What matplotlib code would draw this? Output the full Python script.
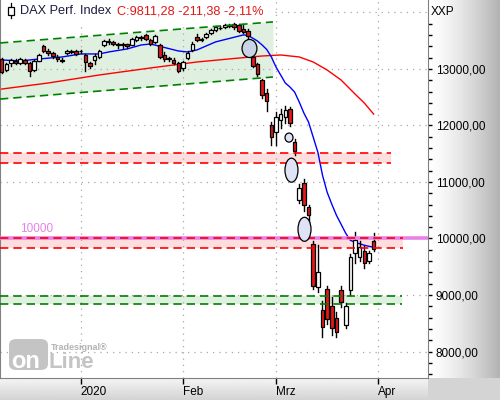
import numpy as np
import matplotlib
matplotlib.use("Agg")
import matplotlib.pyplot as plt
from matplotlib.patches import Rectangle, Ellipse, FancyBboxPatch
from matplotlib.ticker import FixedLocator, FuncFormatter

plt.rcParams['font.family'] = ['Liberation Sans', 'DejaVu Sans']

# daily bars, early Dec 2019 .. 31 Mar 2020 (bar 17 = 2 Jan, 39 = 3 Feb, 59 = 2 Mar)
opens = [13180, 12980, 13100, 13150, 13100, 13160, 13100, 12980, 13150, 13400,
         13310, 13290, 13220, 13160, 13280, 13320, 13310, 13320, 13240, 13110,
         13160, 13220, 13420, 13500, 13480, 13430, 13420, 13440, 13430, 13520,
         13560, 13600, 13510, 13470, 13420, 13250, 13180, 13160, 13100, 13020,
         13200, 13330, 13560, 13520, 13560, 13640, 13690, 13720, 13740, 13760,
         13790, 13770, 13700, 13680, 13210, 13080, 12800, 12580, 12000, 11880,
         12100, 12150, 12300, 11700, 10690, 10980, 10550, 9900, 9140, 8730,
         9100, 8800, 8600, 9080, 8470, 9080, 9750, 9680, 9780, 9600,
         9950]
highs = [13200, 13110, 13180, 13170, 13190, 13170, 13120, 13160, 13260, 13420,
         13360, 13300, 13250, 13190, 13330, 13340, 13330, 13340, 13260, 13120,
         13260, 13330, 13520, 13530, 13490, 13460, 13460, 13450, 13550, 13580,
         13590, 13620, 13530, 13600, 13440, 13300, 13220, 13190, 13120, 13150,
         13310, 13470, 13620, 13540, 13640, 13710, 13760, 13760, 13790, 13800,
         13810, 13800, 13790, 13700, 13230, 13110, 12830, 12640, 12060, 12230,
         12300, 12340, 12330, 11760, 10960, 11060, 10600, 9950, 9880, 8900,
         9160, 8960, 8700, 9160, 8850, 9720, 10120, 9950, 9860, 9780,
         10090]
lows = [12930, 12960, 13060, 13080, 13080, 13080, 12880, 12970, 13140, 13300,
        13250, 13200, 13150, 13120, 13260, 13280, 13240, 13280, 12960, 13020,
        13090, 13200, 13400, 13440, 13420, 13380, 13380, 13380, 13420, 13500,
        13510, 13510, 13420, 13460, 13200, 13150, 13150, 13080, 12940, 12990,
        13180, 13320, 13500, 13490, 13540, 13620, 13670, 13700, 13720, 13740,
        13700, 13650, 13640, 13530, 13040, 12880, 12480, 12250, 11650, 11650,
        11950, 12050, 11990, 11480, 10620, 10480, 10300, 9100, 9060, 8250,
        8480, 8300, 8250, 8780, 8420, 9000, 9560, 9600, 9480, 9560,
        9780]
closes = [12950, 13090, 13160, 13100, 13170, 13110, 12960, 13140, 13240, 13320,
          13280, 13230, 13170, 13150, 13320, 13300, 13260, 13310, 13130, 13060,
          13230, 13310, 13500, 13470, 13440, 13420, 13440, 13400, 13530, 13560,
          13540, 13530, 13440, 13580, 13220, 13180, 13200, 13110, 12970, 13120,
          13290, 13450, 13510, 13510, 13620, 13690, 13740, 13730, 13770, 13780,
          13740, 13680, 13660, 13580, 13060, 12920, 12540, 12430, 11800, 12150,
          12200, 12280, 12040, 11540, 10900, 10600, 10420, 9160, 9400, 8430,
          8580, 8420, 8350, 8870, 8800, 9680, 9980, 9850, 9560, 9740,
          9811]

month_ticks = [17, 39, 59, 81]
month_labels = ['2020', 'Feb', 'Mrz', 'Apr']

# short moving average (blue) read at selected bars
blue_bars = [0, 4, 8, 13, 17, 21, 23, 27, 30, 32, 35, 38, 40, 42, 44, 46, 49, 52, 53,
             55, 56, 57, 58, 59, 60, 61, 62, 63, 64, 65, 66, 67, 68, 69, 70, 71, 72,
             73, 74, 75, 76, 78, 80]
blue_vals = [13160, 13142, 13177, 13213, 13266, 13266, 13301, 13355, 13425, 13443,
             13381, 13319, 13301, 13337, 13408, 13479, 13541, 13603, 13594, 13496,
             13426, 13346, 13213, 13035, 12894, 12752, 12681, 12592, 12415, 12220,
             12060, 11794, 11528, 11121, 10819, 10607, 10411, 10252, 10092, 9968,
             9933, 9880, 9844]

# long moving average (red)
red_bars = [0, 10, 21, 32, 42, 50, 56, 60, 64, 67, 70, 73, 76, 78, 80]
red_vals = [12645, 12752, 12894, 13018, 13124, 13186, 13230, 13248, 13213, 13124,
            12982, 12805, 12557, 12397, 12202]

# trend channel
chan_bars = [-0.36, 58.35]
chan_upper = [13461, 13833]
chan_lower = [12468, 12858]

# horizontal zones (top, bottom)
zone_red1 = [11511, 11333]
zone_red2 = [10000, 9830]
zone_green = [8984, 8833]
level_line = 10000

# gap markers (bar, price)
gap_bars = [53.3, 61.8, 62.33, 65.13]
gap_prices = [13363, 11786, 11209, 10163]

title_name = 'DAX Perf. Index'
title_quote = 'C:9811,28 -211,38 -2,11%'

W, H = 500, 400
fig = plt.figure(figsize=(5, 4), dpi=100)
fig.patch.set_facecolor('white')


def fx(px):
    return px / W


def fy(py):
    return 1 - py / H


# gradient panels (right axis and bottom axis)
pr = fig.add_axes([fx(428), 22 / H, 72 / W, 378 / H], zorder=0)
g = np.linspace(0, 1, 200) ** 1.4
pr.imshow(np.tile(1 - 0.30 * g, (10, 1)), cmap='gray', vmin=0, vmax=1,
          aspect='auto', extent=[0, 1, 0, 1])
pr.axis('off')
pb = fig.add_axes([0, 0, fx(428), 22 / H], zorder=0)
gv = np.linspace(0, 1, 50)[:, None]
pb.imshow(np.tile(0.83 + 0.13 * gv, (1, 10)), cmap='gray', vmin=0, vmax=1,
          aspect='auto', extent=[0, 1, 0, 1], origin='lower')
pb.axis('off')
pc = fig.add_axes([fx(428), 0, 72 / W, 22 / H], zorder=0)
pc.set_facecolor('#d4d4d4')
pc.set_xticks([])
pc.set_yticks([])
for s in pc.spines.values():
    s.set_visible(False)

ax = fig.add_axes([0, 22 / H, fx(428), 378 / H], zorder=1)
ax.set_facecolor('white')
ax.set_xlim(-0.355, 91.69)
ax.set_ylim(7531, 14221)

# zones and channel fills
pink = '#fcdede'
lgreen = '#e0f0e0'
x_end1, x_end2, x_endg = 83.7, 86.3, 86.1
ax.add_patch(Rectangle((-1, zone_red1[1]), x_end1 + 1, zone_red1[0] - zone_red1[1],
                       fc=pink, ec='none', zorder=0.5))
ax.add_patch(Rectangle((-1, zone_red2[1]), x_end2 + 1, zone_red2[0] - zone_red2[1],
                       fc=pink, ec='none', zorder=0.5))
ax.add_patch(Rectangle((-1, zone_green[1]), x_endg + 1, zone_green[0] - zone_green[1],
                       fc=lgreen, ec='none', zorder=0.5))
ax.fill_between(chan_bars, chan_lower, chan_upper, color=lgreen, lw=0, zorder=0.5)

# dotted grid
for v in range(8000, 14001, 1000):
    ax.axhline(v, color='#a8a8a8', ls=(0, (1, 4)), lw=0.9, zorder=1)
for b in month_ticks:
    ax.axvline(b, color='#a8a8a8', ls=(0, (1, 4)), lw=0.9, zorder=1)

# white box behind the title
ax.add_patch(Rectangle((0, 1 - 23 / 378), 272 / 428, 23 / 378, transform=ax.transAxes,
                       fc='white', ec='none', zorder=1.5))

# moving averages
ax.plot(red_bars, red_vals, color='#ff0000', lw=1.0, zorder=2)
ax.plot(blue_bars, blue_vals, color='#0000ff', lw=1.0, zorder=2)

# candles
for i, (o, h, l, c) in enumerate(zip(opens, highs, lows, closes)):
    ax.plot([i, i], [l, h], color='black', lw=1.0, zorder=3)
    bottom = min(o, c)
    height = max(abs(c - o), 14)
    fc = 'white' if c >= o else '#e81818'
    ax.add_patch(Rectangle((i - 0.38, bottom), 0.76, height, fc=fc, ec='black',
                           lw=0.9, zorder=4))

# level line and dashed zone borders
ax.axhline(level_line, color='#e882e8', lw=2.6, zorder=4.5)
ax.text(4.0, level_line + 120, '10000', color='#e882e8', fontsize=8.5, zorder=7)
dash = (0, (5, 3))
for top, bot, xe, col in [(zone_red1[0], zone_red1[1], x_end1, '#ff0000'),
                          (zone_red2[0], zone_red2[1], x_end2, '#ff0000'),
                          (zone_green[0], zone_green[1], x_endg, '#008000')]:
    ax.plot([-0.36, xe], [top, top], color=col, ls=dash, lw=1.2, zorder=5)
    ax.plot([-0.36, xe], [bot, bot], color=col, ls=dash, lw=1.2, zorder=5)
ax.plot(chan_bars, chan_upper, color='#008000', ls=dash, lw=1.2, zorder=5)
ax.plot(chan_bars, chan_lower, color='#008000', ls=dash, lw=1.2, zorder=5)

# gap ellipses
sizes = [(3.2, 320), (1.72, 160), (2.8, 425), (2.8, 425)]
fills = ['#c9d5e6', '#e0e2f6', '#e0e2f6', '#e0e2f6']
for bx, py, (w, hgt), fcol in zip(gap_bars, gap_prices, sizes, fills):
    ax.add_patch(Ellipse((bx, py), w, hgt, fc=fcol, ec='black', lw=0.9, zorder=6))

# axes styling
ax.spines['top'].set_visible(False)
ax.spines['left'].set_color('#808080')
ax.spines['left'].set_linewidth(1.5)
ax.spines['right'].set_color('#808080')
ax.spines['bottom'].set_color('#808080')

ax.yaxis.tick_right()
ax.yaxis.set_major_locator(FixedLocator(range(8000, 13001, 1000)))
ax.yaxis.set_minor_locator(FixedLocator([v for v in range(7600, 13801, 200) if v % 1000]))
ax.yaxis.set_major_formatter(FuncFormatter(lambda v, p: f'{v:.2f}'.replace('.', ',')))
ax.tick_params(axis='y', which='both', direction='out', length=3, width=1,
               color='black', labelsize=8.5, pad=2.5)

ax.set_xticks(month_ticks)
ax.set_xticklabels(month_labels)
ax.tick_params(axis='x', direction='out', length=4, width=1, color='black',
               labelsize=8.5, pad=1.5)
for lbl in ax.get_xticklabels():
    lbl.set_horizontalalignment('left')

fig.text(fx(431), fy(12), 'XXP', fontsize=8.5, va='center', ha='left', zorder=5)

# title
fig.text(fx(20), fy(11), title_name, fontsize=9.2, color='#1c1c40', va='center', zorder=8)
fig.text(fx(117), fy(11), title_quote, fontsize=9.2, color='#e01818', va='center', zorder=8)
fig.add_artist(plt.Line2D([fx(11), fx(11)], [fy(3), fy(18)], color='black', lw=0.9, zorder=8))
fig.add_artist(Rectangle((fx(8), fy(15)), 6 / W, 8 / H, fc='white', ec='black',
                         lw=0.9, transform=fig.transFigure, zorder=9))

# watermark
fig.add_artist(FancyBboxPatch((fx(9), fy(370)), 39 / W, 31 / H,
                              boxstyle='round,pad=0,rounding_size=0.015',
                              fc='#c4c4c4', ec='none', transform=fig.transFigure, zorder=3))
fig.text(fx(11), fy(362), 'on', fontsize=17, fontweight='bold', color='white',
         va='center', zorder=4)
fig.text(fx(49), fy(362), 'Line', fontsize=16, fontweight='bold', color='#c4c4c4',
         va='center', zorder=4)
fig.text(fx(51), fy(347), 'Tradesignal\u00ae', fontsize=6.5, fontweight='bold',
         color='#b4b4b4', va='center', zorder=4)

fig.savefig('out.png', dpi=100)
